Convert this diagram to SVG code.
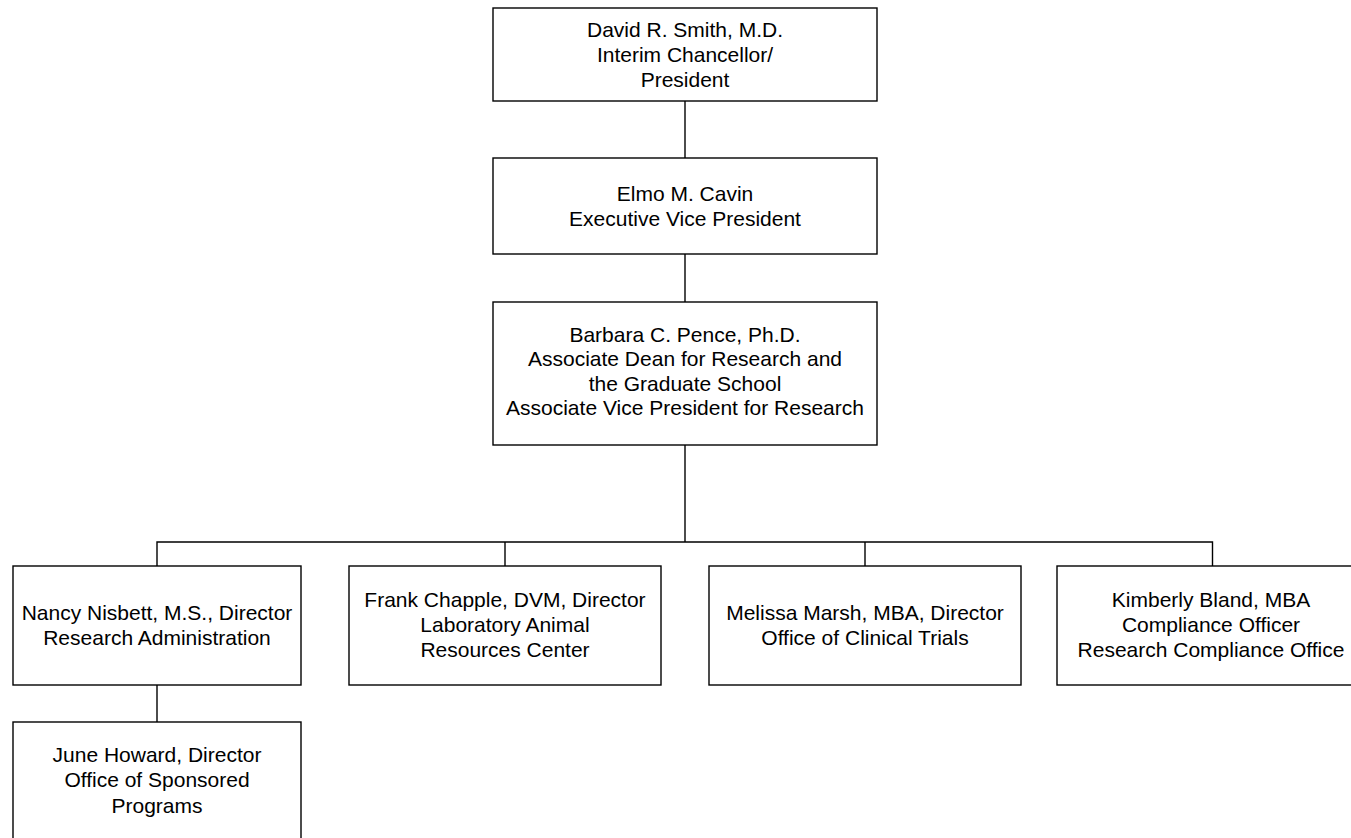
<svg xmlns="http://www.w3.org/2000/svg" width="1351" height="838" viewBox="0 0 1351 838">
<style>
.box{fill:#fff;stroke:#000;stroke-width:1.4}
.conn{fill:none;stroke:#000;stroke-width:1.4}
text{font-family:"Liberation Sans",Arial,sans-serif;font-size:21px;fill:#000;text-anchor:middle}
</style>
<rect width="1351" height="838" fill="#fff"/>
<g id="connectors">
<line class="conn" x1="685" y1="101" x2="685" y2="158"/>
<line class="conn" x1="685" y1="254" x2="685" y2="302"/>
<line class="conn" x1="685" y1="445" x2="685" y2="542"/>
<polyline class="conn" points="157,566 157,542 1212.5,542 1212.5,566"/>
<line class="conn" x1="505" y1="542" x2="505" y2="566"/>
<line class="conn" x1="865" y1="542" x2="865" y2="566"/>
<line class="conn" x1="157" y1="685" x2="157" y2="722"/>
</g>
<g id="smith">
<rect class="box" x="493" y="8" width="384" height="93"/>
<text x="685" y="37">David R. Smith, M.D.</text>
<text x="685" y="62">Interim Chancellor/</text>
<text x="685" y="87">President</text>
</g>
<g id="cavin">
<rect class="box" x="493" y="158" width="384" height="96"/>
<text x="685" y="201">Elmo M. Cavin</text>
<text x="685" y="226">Executive Vice President</text>
</g>
<g id="pence">
<rect class="box" x="493" y="302" width="384" height="143"/>
<text x="685" y="342">Barbara C. Pence, Ph.D.</text>
<text x="685" y="366">Associate Dean for Research and</text>
<text x="685" y="391">the Graduate School</text>
<text x="685" y="415">Associate Vice President for Research</text>
</g>
<g id="nisbett">
<rect class="box" x="13" y="566" width="288" height="119"/>
<text x="157" y="620">Nancy Nisbett, M.S., Director</text>
<text x="157" y="645">Research Administration</text>
</g>
<g id="chapple">
<rect class="box" x="349" y="566" width="312" height="119"/>
<text x="505" y="607">Frank Chapple, DVM, Director</text>
<text x="505" y="632">Laboratory Animal</text>
<text x="505" y="657">Resources Center</text>
</g>
<g id="marsh">
<rect class="box" x="709" y="566" width="312" height="119"/>
<text x="865" y="620">Melissa Marsh, MBA, Director</text>
<text x="865" y="645">Office of Clinical Trials</text>
</g>
<g id="bland">
<rect class="box" x="1057" y="566" width="311" height="119"/>
<text x="1211" y="607">Kimberly Bland, MBA</text>
<text x="1211" y="632">Compliance Officer</text>
<text x="1211" y="657">Research Compliance Office</text>
</g>
<g id="howard">
<rect class="box" x="13" y="722" width="288" height="118"/>
<text x="157" y="762">June Howard, Director</text>
<text x="157" y="787">Office of Sponsored</text>
<text x="157" y="813">Programs</text>
</g>
</svg>
